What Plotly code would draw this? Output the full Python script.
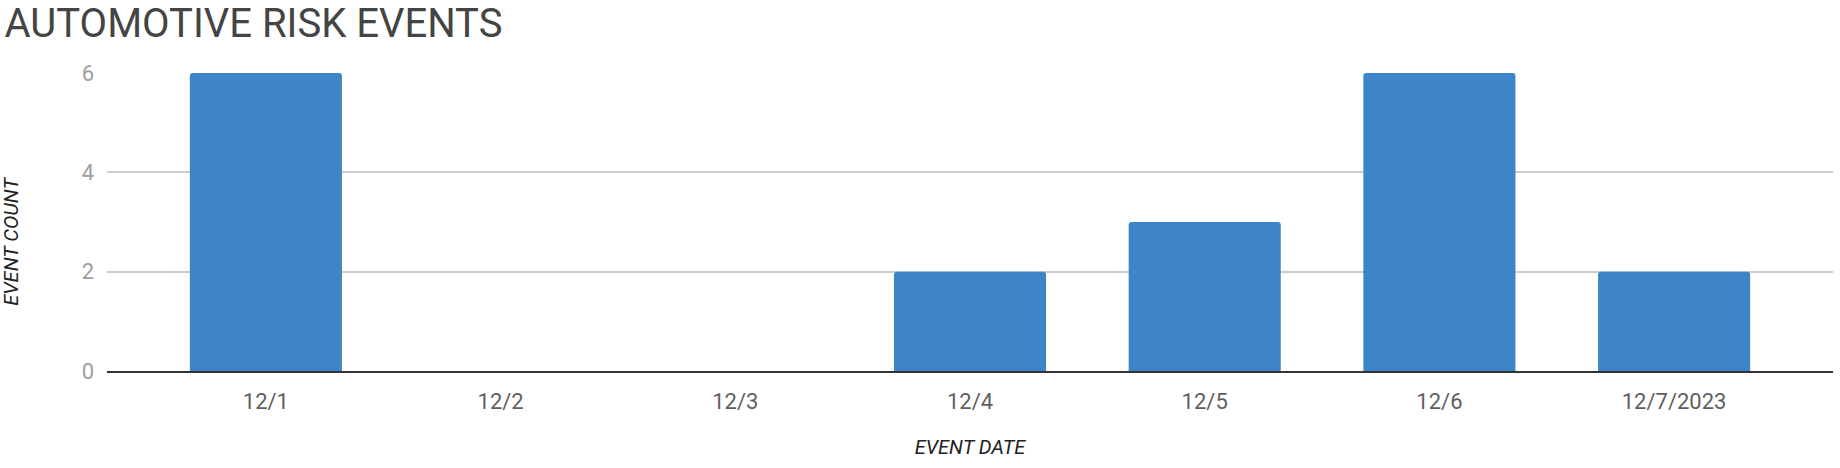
import plotly.graph_objects as go

categories = ["12/1", "12/2", "12/3", "12/4", "12/5", "12/6", "12/7/2023"]
event_counts = [6, 0, 0, 2, 3, 6, 2]
y_ticks = [0, 2, 4, 6]

fig = go.Figure()
fig.add_trace(go.Bar(
    x=categories, y=event_counts,
    marker=dict(color="#3d85c6", line=dict(width=0)),
))

fig.update_layout(
    width=1840, height=468,
    paper_bgcolor="white", plot_bgcolor="white",
    margin=dict(l=107, r=7, t=73, b=97),
    bargap=0.352,
    barcornerradius=3,
    showlegend=False,
    font=dict(family="Roboto", color="#444"),
    title=dict(text="AUTOMOTIVE RISK EVENTS", x=0.0025, xanchor="left",
               xref="container", yref="container", y=0.98, yanchor="top",
               font=dict(family="Roboto", size=40, color="#444")),
)
fig.update_xaxes(
    type="category", range=[-0.677, 6.677],
    showgrid=False, showline=True, linecolor="#333", linewidth=2,
    tickfont=dict(family="Roboto", size=22, color="#5f5f5f"),
    ticks="", ticklabelstandoff=10,
    title=dict(text="<i>EVENT DATE</i>", font=dict(family="Roboto", size=20, color="#222"), standoff=27),
    zeroline=False,
)
fig.update_yaxes(
    range=[0, 6], tickvals=y_ticks,
    showgrid=True, gridcolor="#cccccc", gridwidth=1.5,
    tickfont=dict(family="Roboto", size=22, color="#9e9e9e"),
    ticks="", ticklabelstandoff=12,
    zeroline=False, showline=False,
)
fig.add_annotation(
    text="<i>EVENT COUNT</i>", textangle=-90,
    xref="paper", yref="paper", x=-0.0558, y=0.436, xanchor="center", yanchor="middle",
    showarrow=False, font=dict(family="Roboto", size=20, color="#222"),
)
fig.write_html("out.html", config={"displayModeBar": False},
               post_script="document.body.style.margin='0';")
